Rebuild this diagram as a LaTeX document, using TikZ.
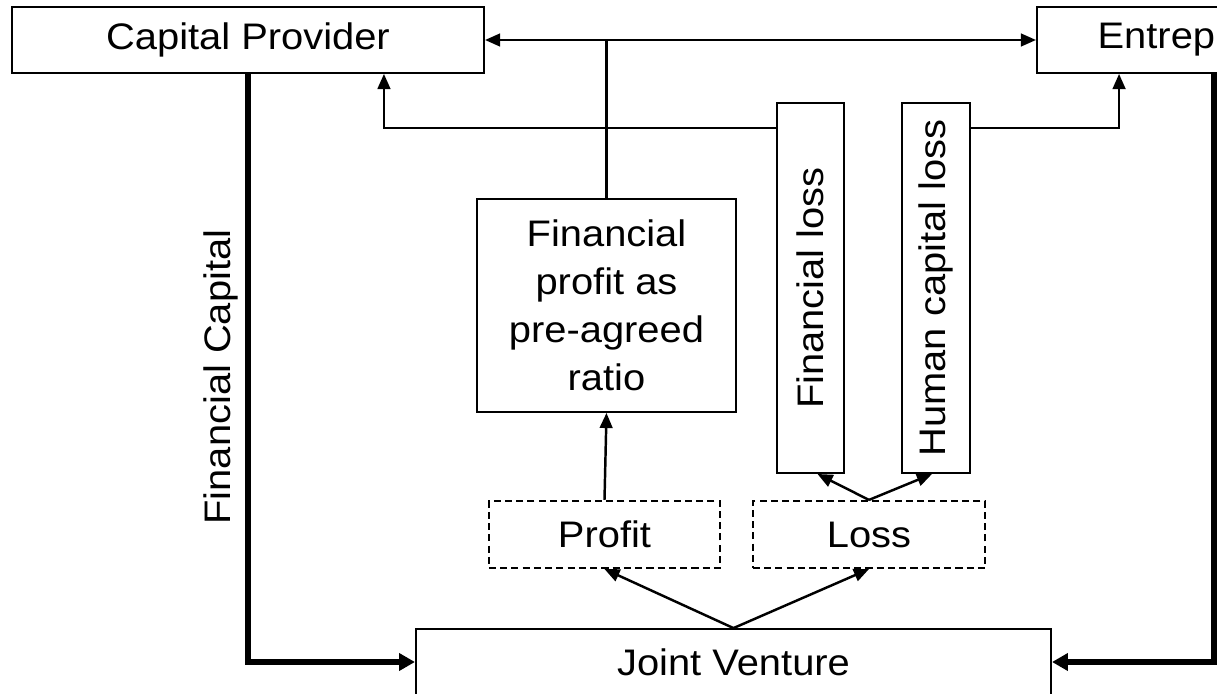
\documentclass[tikz,border=0pt]{standalone}
\usepackage{fontspec}
\setmainfont{Liberation Sans}[FakeStretch=1.08]
\usepackage{graphicx}
\usetikzlibrary{arrows.meta}
\begin{document}
\begin{tikzpicture}[x=0.01cm,y=-0.01cm,
    font=\fontsize{10.5}{13.7}\selectfont,
    box/.style={draw,line width=0.5pt,inner sep=0pt,align=center},
    dbox/.style={box,dash pattern=on 2pt off 1.2pt,line width=0.6pt},
    arr/.style={line width=0.7pt,>={Triangle[length=4.3pt,width=3.6pt]},->},
    fat/.style={line width=1.7pt,-{Triangle[length=4.5pt,width=4.8pt]}}]
  \useasboundingbox (0,0) rectangle (1217,694);
  \clip (0,0) rectangle (1217,694);
  % parties
  \node[box,minimum width=4.72cm,minimum height=0.66cm] (cp) at (248,40) {Capital Provider};
  \node[box,minimum width=3.54cm,minimum height=0.66cm] (ent) at (1214,40) {Entrepreneur};
  \node[box,minimum width=6.35cm,minimum height=0.66cm] (jv) at (733.5,662) {Joint Venture};
  % outcomes
  \node[dbox,minimum width=2.31cm,minimum height=0.67cm] (profit) at (604.5,534.5) {Profit};
  \node[dbox,minimum width=2.32cm,minimum height=0.67cm] (loss) at (869,534.5) {Loss};
  \node[box,minimum width=2.59cm,minimum height=2.13cm] (fp) at (606.5,305.5)
    {Financial\\profit as\\pre-agreed\\ratio};
  \node[box,minimum width=0.67cm,minimum height=3.70cm] (fl) at (810.5,288) {\rotatebox{90}{Financial loss}};
  \node[box,minimum width=0.68cm,minimum height=3.70cm] (hcl) at (936,288) {\rotatebox{90}{Human capital loss}};
  \node[rotate=90] (fcap) at (221,377) {Financial Capital};
  \coordinate (lvl) at (0,128);
  % flows
  \draw[arr,<->] (cp.east) -- (ent.west);
  \draw[line width=0.7pt] (fp.north) -- (fp.north |- cp.east);
  \draw[arr] (fl.west |- lvl) -| ([xshift=-1.01cm]cp.south east);
  \draw[arr] (hcl.east |- lvl) -| ([xshift=0.83cm]ent.south west);
  \draw[arr] (profit.north) -- (fp.south);
  \draw[arr] (loss.north) -- ([xshift=0.07cm]fl.south);
  \draw[arr] (loss.north) -- ([xshift=-0.04cm]hcl.south);
  \draw[arr] (jv.north) -- (profit.south);
  \draw[arr] (jv.north) -- (loss.south);
  \draw[fat] (cp.south) |- (jv.west);
  \draw[fat] (ent.south) |- (jv.east);
\end{tikzpicture}
\end{document}
